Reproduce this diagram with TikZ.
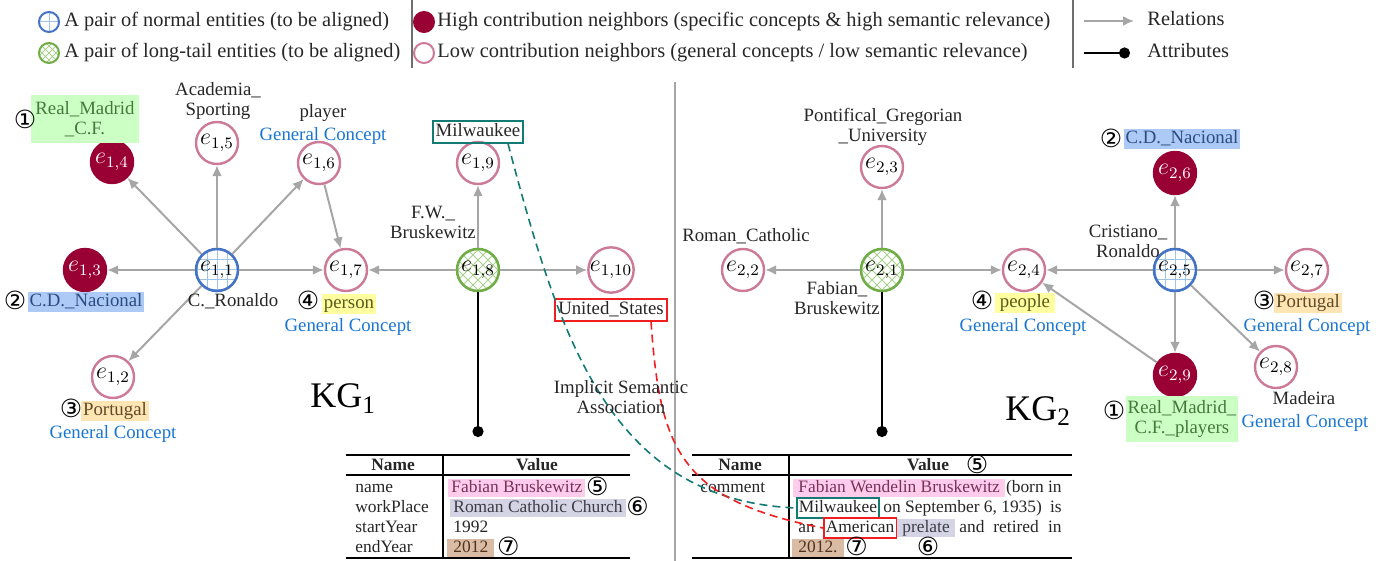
\documentclass[tikz,border=0pt]{standalone}
\usepackage{fontspec}
\setmainfont{Liberation Serif}
\newfontfamily\symf{DejaVu Sans}
\usetikzlibrary{arrows.meta,calc}
\definecolor{txt}{RGB}{38,38,38}
\definecolor{gcc}{RGB}{25,118,210}
\definecolor{lowc}{RGB}{204,122,152}
\definecolor{highc}{RGB}{153,0,51}
\definecolor{normc}{RGB}{68,114,196}
\definecolor{gridc}{RGB}{157,195,230}
\definecolor{longc}{RGB}{112,173,71}
\definecolor{hatchc}{RGB}{169,209,142}
\definecolor{relc}{RGB}{166,166,166}
\definecolor{sepc}{RGB}{110,110,110}
\definecolor{tealc}{RGB}{19,122,116}
\definecolor{redc}{RGB}{240,30,30}
\definecolor{greenf}{RGB}{204,255,196}
\definecolor{greent}{RGB}{70,120,60}
\definecolor{bluef}{RGB}{172,202,245}
\definecolor{bluet}{RGB}{45,75,130}
\definecolor{orangef}{RGB}{255,229,180}
\definecolor{oranget}{RGB}{95,75,40}
\definecolor{yellowf}{RGB}{255,255,160}
\definecolor{yellowt}{RGB}{90,90,30}
\definecolor{pinkf}{RGB}{255,204,236}
\definecolor{pinkt}{RGB}{120,50,90}
\definecolor{lavf}{RGB}{212,212,228}
\definecolor{lavt}{RGB}{60,60,70}
\definecolor{brownf}{RGB}{218,187,164}
\definecolor{brownt}{RGB}{80,50,30}
\newcommand\legf{\fontsize{10.2}{12}\selectfont}
\newcommand\lblf{\fontsize{9.4}{10}\selectfont}
\newcommand\tabf{\fontsize{8.7}{10}\selectfont}
\newcommand\tabbf{\fontsize{8.7}{10}\selectfont\bfseries}
\newcommand\entf{\fontsize{12}{13}\selectfont}
\newcommand\kgf{\fontsize{18}{20}\selectfont}
\newcommand\cnf{\symf\fontsize{12.5}{13}\selectfont}
\newcommand\gridpic[1]{\foreach \k in {-3,...,3}{%
  \draw[gridc,line width=0.5pt] ($(path picture bounding box.center)+(\k*#1,-15pt)$) -- ++(0pt,30pt);
  \draw[gridc,line width=0.5pt] ($(path picture bounding box.center)+(-15pt,\k*#1)$) -- ++(30pt,0pt);}}
\newcommand\hatchpic[1]{\foreach \k in {-7,...,7}{%
  \draw[hatchc,line width=0.5pt] ($(path picture bounding box.center)+(\k*#1-15pt,-15pt)$) -- ++(30pt,30pt);
  \draw[hatchc,line width=0.5pt] ($(path picture bounding box.center)+(\k*#1+15pt,-15pt)$) -- ++(-30pt,30pt);}}
\tikzset{
  lbl/.style={font=\lblf, inner sep=0pt, text=txt},
  lone/.style={lbl, text height=6.8pt, text depth=2pt},
  ml/.style={lbl, align=center},
  gcon/.style={lone, text=gcc},
  hl/.style={font=\lblf, inner xsep=1pt, inner ysep=0.4pt, text height=6.8pt, text depth=2pt},
  cn/.style={font=\cnf, inner sep=0pt, text=black, text height=8pt, text depth=1pt},
  legt/.style={font=\legf, inner sep=0pt, text=txt, text height=7.2pt, text depth=2.2pt},
  ent/.style={circle, minimum size=21pt, inner sep=0pt, line width=1.2pt, font=\entf, text=black},
  lowe/.style={ent, draw=lowc, fill=white},
  highe/.style={ent, draw=highc, fill=highc, text=white},
  norme/.style={ent, draw=normc, fill=white, line width=1.3pt, path picture={\gridpic{5pt}}},
  longe/.style={ent, draw=longc, fill=white, line width=1.3pt, path picture={\hatchpic{5pt}}},
  licon/.style={circle, minimum size=10pt, inner sep=0pt, line width=1pt},
  rel/.style={draw=relc, line width=1pt, -{Latex[length=5.5pt,width=5pt]}},
  attr/.style={draw=black, line width=1.3pt, -{Circle[length=5.5pt]}},
  sepl/.style={draw=sepc, line width=0.7pt},
  cline/.style={draw=relc, line width=0.6pt},
  trule/.style={draw=black, line width=1pt},
  vrule/.style={draw=black, line width=0.7pt},
  tab/.style={font=\tabf, inner sep=0pt, text=txt, text height=6.3pt, text depth=1.9pt},
  thl/.style={tab, inner xsep=1.5pt, inner ysep=0.6pt},
  tbox/.style={tab, inner xsep=1pt, inner ysep=0.8pt, line width=0.8pt},
  tdash/.style={draw=tealc, line width=0.8pt, dash pattern=on 4pt off 2.5pt},
  rdash/.style={draw=redc, line width=0.8pt, dash pattern=on 4pt off 2.5pt}
}
\begin{document}
\begin{tikzpicture}[x=0.5pt,y=-0.5pt]
\path[use as bounding box] (0,0) rectangle (1387,561);

% ---------------- legend
\node[licon, draw=normc, fill=white, path picture={\gridpic{6pt}}] (lg1) at (49,22) {};
\node[legt, anchor=west] (lt1) at (64,22) {A pair of normal entities (to be aligned)};
\node[licon, draw=longc, fill=white, path picture={\hatchpic{3.5pt}}] (lg2) at (49,53) {};
\node[legt, anchor=west] (lt2) at (64,53) {A pair of long-tail entities (to be aligned)};
\draw[sepl] (412,0) -- (412,68);
\node[licon, draw=highc, fill=highc] (lg3) at (424,22) {};
\node[legt, anchor=west] (lt3) at (437,22) {High contribution neighbors (specific concepts \& high semantic relevance)};
\node[licon, draw=lowc, fill=white] (lg4) at (424,53) {};
\node[legt, anchor=west] (lt4) at (437,53) {Low contribution neighbors (general concepts / low semantic relevance)};
\draw[sepl] (1073,0) -- (1073,68);
\coordinate (r1) at (1084,21); \coordinate (r2) at (1134,21);
\draw[rel] (r1) -- (r2);
\coordinate (a1) at (1084,53); \coordinate (a2) at (1130,53);
\draw[attr] (a1) -- (a2);
\node[legt, anchor=west] (lt5) at (1147,21) {Relations};
\node[legt, anchor=west] (lt6) at (1147,53) {Attributes};

% centre separator
\draw[cline] (675,82) -- (675,561);

% ---------------- KG1 entities
\node[norme] (e11) at (217,270) {$e_{1,1}$};
\node[lowe]  (e12) at (113,377) {$e_{1,2}$};
\node[highe] (e13) at (85,270)  {$e_{1,3}$};
\node[highe] (e14) at (112,162) {$e_{1,4}$};
\node[lowe]  (e15) at (217,143) {$e_{1,5}$};
\node[lowe]  (e16) at (319,163) {$e_{1,6}$};
\node[lowe]  (e17) at (346,270) {$e_{1,7}$};
\node[longe] (e18) at (478,270) {$e_{1,8}$};
\node[lowe]  (e19) at (478,163) {$e_{1,9}$};
\node[lowe]  (e110) at (611,270) {$e_{1,10}$};
\coordinate (d1) at (478,437);

\draw[rel] (e11) -- (e14);
\draw[rel] (e11) -- (e15);
\draw[rel] (e11) -- (e16);
\draw[rel] (e11) -- (e13);
\draw[rel] (e11) -- (e17);
\draw[rel] (e11) -- (e12);
\draw[rel] (e16) -- (e17);
\draw[rel] (e18) -- (e17);
\draw[rel] (e18) -- (e19);
\draw[rel] (e18) -- (e110);
\draw[attr] (e18) -- (d1);

% KG1 labels
\node[ml, fill=greenf, text=greent, minimum width=54pt, minimum height=24pt] (l14) at (85,119) {Real\_Madrid\\\_C.F.};
\node[cn] (c14) at (25,122) {①};
\node[ml] (l15) at (218,101) {Academia\_\\Sporting};
\node[lone] (l16) at (323,113) {player};
\node[gcon] (g16) at (323,136) {General Concept};
\node[cn] (c13) at (15,302) {②};
\node[hl, fill=bluef, text=bluet] (l13) at (86,302) {C.D.\_Nacional};
\node[lone] (l11) at (233,302) {C.\_Ronaldo};
\node[cn] (c17) at (308,303) {④};
\node[hl, fill=yellowf, text=yellowt] (l17) at (349,304) {person};
\node[gcon] (g17) at (348,327) {General Concept};
\node[cn] (c12) at (71,410) {③};
\node[hl, fill=orangef, text=oranget] (l12) at (115,411) {Portugal};
\node[gcon] (g12) at (113,434) {General Concept};
\node[ml] (l18) at (433,222) {F.W.\_\\Bruskewitz};
\node[hl, draw=tealc, line width=0.8pt, inner xsep=1.5pt, inner ysep=1pt, text=txt] (mil1) at (478,132) {Milwaukee};
\node[hl, draw=redc, line width=0.8pt, inner xsep=1.5pt, inner ysep=1pt, text=txt] (us) at (611,310) {United\_States};
\node[font=\kgf, inner sep=0pt, text=black, anchor=base west] (kg1) at (310,408) {KG\textsubscript{1}};

% ---------------- KG2 entities
\node[longe] (e21) at (882,270) {$e_{2,1}$};
\node[lowe]  (e22) at (743,270) {$e_{2,2}$};
\node[lowe]  (e23) at (882,167) {$e_{2,3}$};
\node[lowe]  (e24) at (1024,270) {$e_{2,4}$};
\node[norme] (e25) at (1175,270) {$e_{2,5}$};
\node[highe] (e26) at (1175,173) {$e_{2,6}$};
\node[lowe]  (e27) at (1307,270) {$e_{2,7}$};
\node[lowe]  (e28) at (1276,367) {$e_{2,8}$};
\node[highe] (e29) at (1175,375) {$e_{2,9}$};
\coordinate (d2) at (882,437);

\draw[rel] (e21) -- (e22);
\draw[rel] (e21) -- (e23);
\draw[rel] (e21) -- (e24);
\draw[rel] (e25) -- (e24);
\draw[rel] (e25) -- (e26);
\draw[rel] (e25) -- (e27);
\draw[rel] (e25) -- (e28);
\draw[rel] (e25) -- (e29);
\draw[rel] (e29) -- (e24);
\draw[attr] (e21) -- (d2);

% KG2 labels
\node[ml] (l23) at (883,127) {Pontifical\_Gregorian\\\_University};
\node[lone] (l22) at (746,237) {Roman\_Catholic};
\node[ml] (l21) at (837,298) {Fabian\_\\Bruskewitz};
\node[cn] (c24) at (982,302) {④};
\node[hl, fill=yellowf, text=yellowt, inner xsep=2.5pt] (l24) at (1025,303) {people};
\node[gcon] (g24) at (1023,327) {General Concept};
\node[ml] (l25) at (1128,241) {Cristiano\_\\Ronaldo};
\node[cn] (c26) at (1111,141) {②};
\node[hl, fill=bluef, text=bluet] (l26) at (1182,139) {C.D.\_Nacional};
\node[cn] (c27) at (1264,303) {③};
\node[hl, fill=orangef, text=oranget] (l27) at (1308,303) {Portugal};
\node[gcon] (g27) at (1307,327) {General Concept};
\node[lone] (l28) at (1304,400) {Madeira};
\node[gcon] (g28) at (1305,423) {General Concept};
\node[cn] (c29) at (1114,412) {①};
\node[ml, fill=greenf, text=greent, minimum width=56pt, minimum height=23pt] (l29) at (1182,419) {Real\_Madrid\_\\C.F.\_players};
\node[font=\kgf, inner sep=0pt, text=black, anchor=base west] (kg2) at (1005,420) {KG\textsubscript{2}};

% ---------------- table 1
\draw[trule] (346,455) -- (630,455);
\draw[trule] (346,475) -- (630,475);
\draw[trule] (346,558) -- (630,558);
\draw[vrule] (443,455) -- (443,558);
\node[tab, font=\tabbf] (t1h1) at (393,466) {Name};
\node[tab, font=\tabbf] (t1h2) at (537,466) {Value};
\node[tab, anchor=west] (t1n1) at (355,488) {name};
\node[tab, anchor=west] (t1n2) at (355,508) {workPlace};
\node[tab, anchor=west] (t1n3) at (355,528) {startYear};
\node[tab, anchor=west] (t1n4) at (355,548) {endYear};
\node[thl, fill=pinkf, text=pinkt, anchor=west] (t1v1) at (448,488) {Fabian Bruskewitz};
\node[cn, anchor=west] (t1c1) at (t1v1.east) {⑤};
\node[thl, fill=lavf, text=lavt, anchor=west] (t1v2) at (450,508) {Roman Catholic Church};
\node[cn, anchor=west] (t1c2) at (t1v2.east) {⑥};
\node[tab, anchor=west] (t1v3) at (453,528) {1992};
\node[thl, fill=brownf, text=brownt, anchor=west, inner xsep=3pt] (t1v4) at (447,548) {2012\hspace{5pt}};
\node[cn, anchor=west] (t1c4) at ([xshift=1pt]t1v4.east) {⑦};

% ---------------- table 2
\draw[trule] (692,455) -- (1072,455);
\draw[trule] (692,475) -- (1072,475);
\draw[trule] (692,558) -- (1072,558);
\draw[vrule] (789,455) -- (789,558);
\node[tab, font=\tabbf] (t2h1) at (740,466) {Name};
\node[tab, font=\tabbf] (t2h2) at (928,466) {Value};
\node[cn] (t2c5) at (977,466) {⑤};
\node[tab, anchor=west] (t2n1) at (700,488) {comment};
\node[thl, fill=pinkf, text=pinkt, anchor=west, inner xsep=2.5pt] (t2a) at (793,488) {Fabian Wendelin Bruskewitz};
\node[tab, anchor=east] (t2b) at (1062,488) {(born in};
\node[tbox, draw=tealc, anchor=west] (tmil) at (796,508) {Milwaukee};
\node[tab, anchor=west] (t2c) at (883,508) {on September 6, 1935)};
\node[tab, anchor=east] (t2d) at (1062,508) {is};
\node[tab, anchor=west] (t2e) at (798,528) {an};
\node[tbox, draw=redc, anchor=west] (amer) at (823,528) {American};
\node[thl, fill=lavf, text=lavt, anchor=west, inner xsep=2.5pt] (t2f) at (897,528) {prelate};
\node[tab, anchor=west] (t2g) at (959,528) {and};
\node[tab, anchor=west] (t2h) at (993,528) {retired};
\node[tab, anchor=east] (t2i) at (1062,528) {in};
\node[thl, fill=brownf, text=brownt, anchor=west, inner xsep=3pt] (t2j) at (792,548) {2012.};
\node[cn, anchor=west] (t2c7) at ([xshift=0.5pt]t2j.east) {⑦};
\node[cn] (t2c6) at (928,548) {⑥};

% ---------------- implicit semantic association
\draw[tdash] ([xshift=15pt]mil1.south) .. controls (560,340) and (610,500) .. (tmil.west);
\draw[rdash] ([xshift=20pt]us.south) .. controls (660,450) and (680,500) .. (amer.west);
\node[ml] (isa) at (621,397) {Implicit Semantic\\Association};
\end{tikzpicture}
\end{document}
